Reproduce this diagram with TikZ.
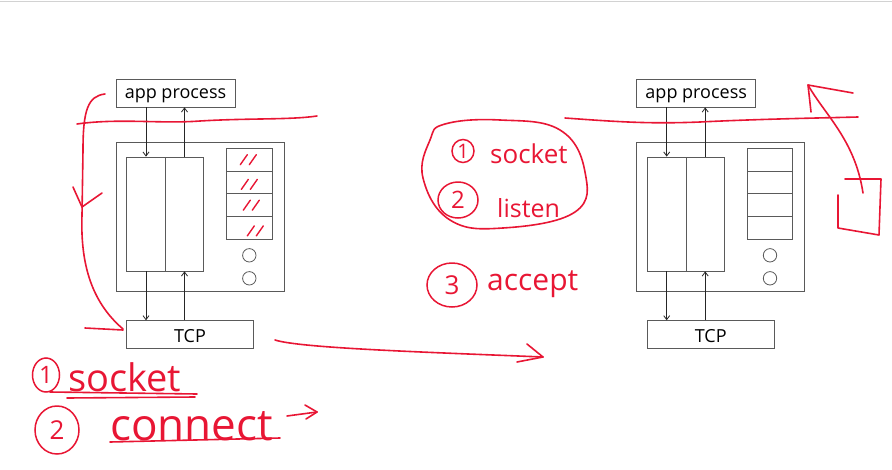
\documentclass[tikz,border=0pt]{standalone}
\usepackage{fontspec}
\setsansfont{Open Sans}
\newfontfamily\handfont{Open Sans}
\usetikzlibrary{arrows.meta,calc,shapes.geometric}
\definecolor{ink}{RGB}{232,22,52}
\definecolor{boxgray}{RGB}{90,90,90}
\begin{document}
\begin{tikzpicture}[x=1pt,y=-1pt,
  box/.style={draw=boxgray,line width=0.8pt,inner sep=0pt,fill=white},
  lbl/.style={font=\sffamily\fontsize{18}{18}\selectfont},
  arr/.style={draw=black!85,line width=0.8pt,-{Straight Barb[length=4pt,width=6pt]}},
  pen/.style={draw=ink,line width=1.6pt,line cap=round,line join=round},
  hand/.style={text=ink,inner sep=0pt,anchor=base west},
  num/.style={draw=ink,line width=1.5pt,ellipse,text=ink,inner sep=0pt,font=\handfont}]
\useasboundingbox (0,0) rectangle (892,469);
\draw[gray!35,line width=1pt] (0,1) -- (892,1);
\foreach \p/\dx in {L/0,R/520.7}{
  \begin{scope}[xshift=\dx pt]
  \node[box,minimum width=119pt,minimum height=28pt] (app\p) at (175.5,93) {};
  \node[lbl] (apptext\p) at ($(app\p.center)+(0,3)$) {app process};
  \node[box,draw=gray!70!black,minimum width=168pt,minimum height=149pt] (outer\p) at (200,216.5) {};
  \node[box,minimum width=38.6pt,minimum height=114pt] (bufa\p) at (146,214) {};
  \node[box,minimum width=38.4pt,minimum height=114pt] (bufb\p) at (184.5,214) {};
  \node[box,minimum width=45.3pt,minimum height=22.75pt] (qa\p) at (249.3,159.7) {};
  \node[box,minimum width=45.3pt,minimum height=22.75pt] (qb\p) at (249.3,182.4) {};
  \node[box,minimum width=45.3pt,minimum height=22.75pt] (qc\p) at (249.3,205.2) {};
  \node[box,minimum width=45.3pt,minimum height=22.75pt] (qd\p) at (249.3,227.9) {};
  \node[box,circle,minimum size=13.4pt] (ca\p) at (249.3,255.3) {};
  \node[box,circle,minimum size=13.4pt] (cb\p) at (249.3,278.3) {};
  \node[box,minimum width=126.6pt,minimum height=28pt] (tcp\p) at (190,334.7) {};
  \node[lbl] (tcptext\p) at ($(tcp\p.center)+(0,1)$) {TCP};
  \draw[arr] (app\p.south -| bufa\p.north) -- (bufa\p.north);
  \draw[arr] (bufb\p.north) -- (bufb\p.north |- app\p.south);
  \draw[arr] (bufa\p.south) -- (bufa\p.south |- tcp\p.north);
  \draw[arr] (bufb\p.south |- tcp\p.north) -- (bufb\p.south);
  \end{scope}
}
% slashes in left queue
\foreach \q/\ox/\oy in {qaL/-9/0,qbL/-8/2,qcL/-6/0,qdL/-2/3}{
  \draw[pen,line width=1.4pt] ($(\q.center)+(\ox,\oy+5)$) -- ++(7,-10);
  \draw[pen,line width=1.4pt] ($(\q.center)+(\ox+9,\oy+5)$) -- ++(7,-10);
}
% left annotations
\draw[pen] (77,124) .. controls (120,118) and (160,124) .. (200,121) .. controls (250,118) and (290,120) .. (317,116);
\draw[pen] (105,94) .. controls (88,96) and (83,110) .. (83,150) -- (82,215) .. controls (80,270) and (95,305) .. (123,329);
\draw[pen] (85,328) -- (123,330);
\draw[pen] (73,187) -- (82,207) -- (102,193);
\node[num,minimum width=27pt,minimum height=34pt] (n1a) at (46,375) {\fontsize{24}{24}\selectfont 1};
\node[hand,font=\handfont\fontsize{38}{38}\selectfont] (w1) at (68,391) {socket};
\draw[pen] (50,392) -- (197,394);
\draw[pen] (67,398) -- (195,397);
\node[num,minimum width=44pt,minimum height=48pt] (n2a) at (57,430) {\fontsize{26}{26}\selectfont 2};
\node[hand,font=\handfont\fontsize{44}{44}\selectfont] (w2) at (110,440) {connect};
\draw[pen] (110,442) -- (280,438);
\coordinate (sa) at (287,416);
\coordinate (sb) at (317,412);
\draw[pen] (sa) -- (sb);
\draw[pen] (305,405) -- (sb) -- (306,419);
% long arrow
\coordinate (la) at (275,340);
\coordinate (lb) at (543,357);
\draw[pen] (la) .. controls (300,348) and (420,352) .. (lb);
\draw[pen] (527,344) -- (lb) -- (517,362);
% middle
\draw[pen] plot[smooth cycle,tension=0.7] coordinates {(445,124) (500,120) (560,130) (585,172) (575,212) (503,228) (450,220) (423,178) (430,140)};
\node[num,minimum width=22pt,minimum height=23pt] (n1b) at (463,151) {\fontsize{20}{20}\selectfont 1};
\node[hand,font=\handfont\fontsize{26}{26}\selectfont] (w3) at (490,163) {socket};
\node[num,minimum width=40pt,minimum height=36pt] (n2b) at (458,200) {\fontsize{24}{24}\selectfont 2};
\node[hand,font=\handfont\fontsize{25}{25}\selectfont] (w4) at (497,217) {listen};
\node[num,minimum width=50pt,minimum height=44pt] (n3b) at (452,285) {\fontsize{26}{26}\selectfont 3};
\node[hand,font=\handfont\fontsize{30}{30}\selectfont] (w5) at (487,290) {accept};
% right annotations
\draw[pen] (565,118) .. controls (620,122) and (650,124) .. (700,122) .. controls (760,119) and (820,118) .. (858,117);
\coordinate (ra) at (863,193);
\coordinate (rb) at (808,85);
\draw[pen] (ra) .. controls (855,140) and (825,115) .. (rb);
\draw[pen] (853,93) -- (rb) -- (811,112);
\draw[pen] (845,179) -- (881,179) -- (879,235) -- (838,228) -- (838,195);
\end{tikzpicture}
\end{document}
